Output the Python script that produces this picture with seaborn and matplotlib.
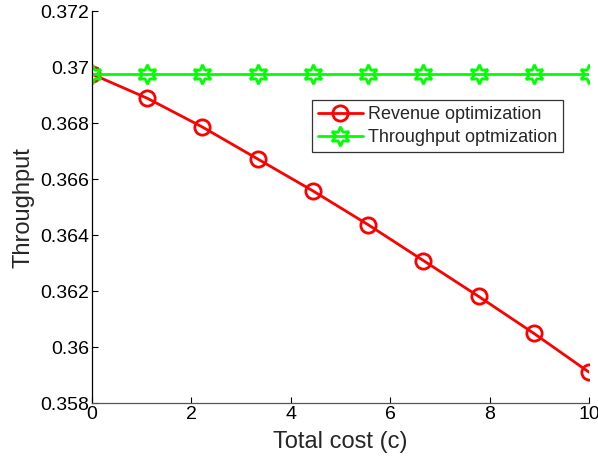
import numpy as np
import pandas as pd
import seaborn as sns
import matplotlib
matplotlib.use("Agg")
import matplotlib.pyplot as plt

cost = [0, 1.111, 2.222, 3.333, 4.444, 5.556, 6.667, 7.778, 8.889, 10]
revenue_opt = [0.36975, 0.36889, 0.36786, 0.36672, 0.36558, 0.36437, 0.36309, 0.36181, 0.36049, 0.35910]
throughput_opt = [0.36975] * 10
series_names = ["Revenue optimization", "Throughput optmization"]
xticks = [0, 2, 4, 6, 8, 10]
yticks = [0.358, 0.36, 0.362, 0.364, 0.366, 0.368, 0.37, 0.372]
ytick_labels = ["0.358", "0.36", "0.362", "0.364", "0.366", "0.368", "0.37", "0.372"]

sns.set_style("white")
plt.rcParams["font.family"] = ["Liberation Sans", "DejaVu Sans"]

df = pd.DataFrame({
    "cost": cost * 2,
    "value": revenue_opt + throughput_opt,
    "series": [series_names[0]] * len(cost) + [series_names[1]] * len(cost),
})

fig = plt.figure(figsize=(5.98, 4.61), dpi=100)
ax = fig.add_axes([0.1538, 0.1258, 0.8312, 0.8500])

sns.lineplot(data=df[df.series == series_names[0]], x="cost", y="value", ax=ax,
             color=(1, 0, 0), linewidth=2, marker="o", markersize=11,
             markerfacecolor="none", markeredgecolor=(1, 0, 0), markeredgewidth=2,
             label=series_names[0])
sns.lineplot(data=df[df.series == series_names[1]], x="cost", y="value", ax=ax,
             color=(0, 1, 0), linewidth=2, marker=(6, 1, 0), markersize=14,
             markerfacecolor="none", markeredgecolor=(0, 1, 0), markeredgewidth=2,
             label=series_names[1])

ax.set_xlim(0, 10)
ax.set_ylim(0.358, 0.372)
ax.set_xticks(xticks)
ax.set_xticklabels([str(t) for t in xticks])
ax.set_yticks(yticks)
ax.set_yticklabels(ytick_labels)
ax.tick_params(direction="in", length=4, width=0.8, labelsize=14, pad=2,
               bottom=True, left=True, colors="black")
ax.set_xlabel("Total cost (c)", fontsize=17, labelpad=6)
ax.set_ylabel("Throughput", fontsize=17, labelpad=4)

for s in ["top", "right"]:
    ax.spines[s].set_visible(False)
ax.spines["left"].set_color("black")
ax.spines["bottom"].set_color("#555555")
for s in ["left", "bottom"]:
    ax.spines[s].set_linewidth(0.9)

leg = ax.legend(loc="upper left", bbox_to_anchor=(0.443, 0.772), fontsize=13,
                frameon=True, fancybox=False, edgecolor="black", handlelength=2.5,
                borderpad=0.3, labelspacing=0.35, handletextpad=0.3, borderaxespad=0)
leg.get_frame().set_linewidth(0.9)

fig.savefig("out.png", dpi=100)
